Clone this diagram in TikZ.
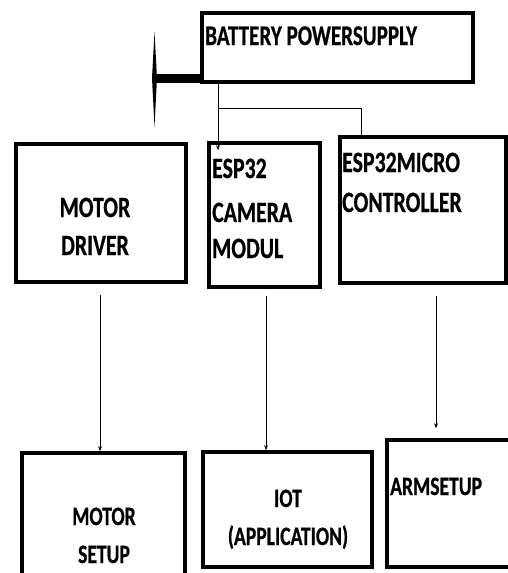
\documentclass[tikz,border=0pt]{standalone}
\usepackage{fontspec}
\newfontfamily\lbl{Carlito-Bold.ttf}[FakeStretch=0.74,FakeBold=0.6]
\usetikzlibrary{arrows.meta}
\begin{document}
\begin{tikzpicture}[x=1pt,y=-1pt,
  box/.style={draw,line width=3.6pt,inner sep=0pt},
  txt/.style={inner sep=0pt,font=\lbl\fontsize{29.5}{30}\selectfont},
  txts/.style={inner sep=0pt,font=\lbl\fontsize{26.5}{27}\selectfont},
  conn/.style={line width=0.8pt},
  arr/.style={conn,-{Stealth[length=5pt,width=4pt]}}]
\useasboundingbox (0,0) rectangle (507,573);
% boxes
\node[box,minimum width=271pt,minimum height=69pt] (bat) at (337.5,47.5) {};
\node[box,minimum width=170pt,minimum height=138pt] (mdrv) at (101,213) {};
\node[box,minimum width=111pt,minimum height=144pt] (cam) at (264.5,215) {};
\node[box,minimum width=166pt,minimum height=146pt] (mcu) at (423,210) {};
\node[box,minimum width=163pt,minimum height=127pt] (msetup) at (103.5,516.5) {};
\node[box,minimum width=169pt,minimum height=115pt] (iot) at (287.5,509.5) {};
\node[box,minimum width=128pt,minimum height=127pt] (arm) at (451,503.5) {};
% texts
\node[txt,font=\lbl\fontsize{28.5}{29}\selectfont,anchor=base west] (tbat) at (205,45) {BATTERY POWERSUPPLY};
\node[txt,anchor=base] (tm1) at (95,217) {MOTOR};
\node[txt,anchor=base] (tm2) at (95,255) {DRIVER};
\node[txt,anchor=base west] (tc1) at (212,178) {ESP32};
\node[txt,anchor=base west] (tc2) at (212,222) {CAMERA};
\node[txt,anchor=base west] (tc3) at (212,258) {MODUL};
\node[txt,anchor=base west] (tu1) at (342,172) {ESP32MICRO};
\node[txt,anchor=base west] (tu2) at (342,212) {CONTROLLER};
\node[txts,anchor=base] (ti1) at (288,507) {IOT};
\node[txts,anchor=base] (ti2) at (288,545) {(APPLICATION)};
\node[txts,anchor=base west] (ta1) at (390,495) {ARMSETUP};
\node[txts,anchor=base] (ts1) at (104,525) {MOTOR};
\node[txts,anchor=base] (ts2) at (104,563) {SETUP};
% thick left arrow
\coordinate (tip) at (154,78);
\draw[line width=9pt] (bat.west |- tip) -- (tip);
\fill (154.5,32) -- (152,78) -- (154.5,127) -- (157,78) -- cycle;
% battery connectors
\coordinate (bx) at (218,108);
\draw[conn] (bat.south -| bx) -- (bx);
\draw[arr] (bx) -- ([yshift=-9pt]bx |- cam.north);
\coordinate (by) at (361,108);
\draw[conn] (bx) -- (by) -- (by |- mcu.north);
% down arrows
\draw[arr,shorten <=11pt] (mdrv.south -| 100,0) -- (msetup.north -| 100,0);
\draw[arr,shorten <=7pt] (cam.south -| 266,0) -- (iot.north -| 266,0);
\draw[arr,shorten <=11pt,shorten >=10pt] (mcu.south -| 436,0) -- (arm.north -| 436,0);
\end{tikzpicture}
\end{document}
